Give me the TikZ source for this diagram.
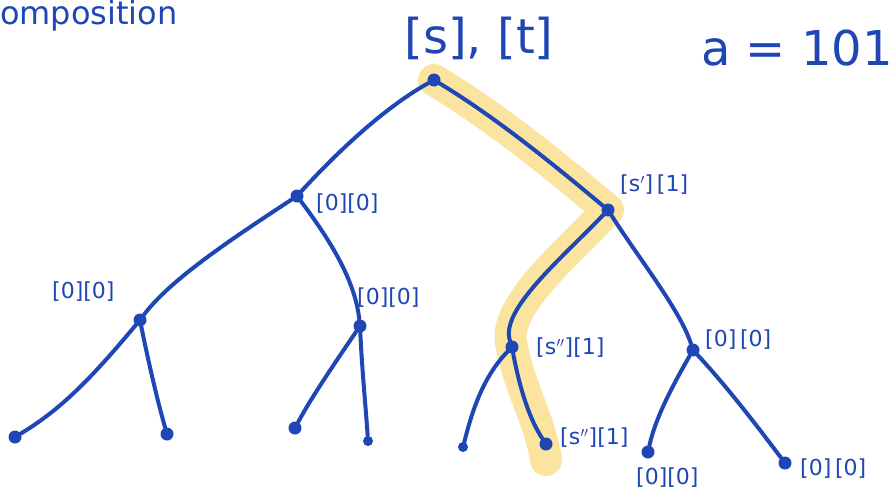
\documentclass[tikz,border=0pt]{standalone}
\usepackage{fontspec}
\setmainfont{DejaVu Sans}
\begin{document}
\begin{tikzpicture}[x=1pt,y=-1pt,
  ink/.style={draw=inkblue,line width=4pt,line cap=round},
  dot/.style={circle,fill=inkblue,inner sep=0pt,minimum size=13pt},
  lab/.style={text=inkblue,font=\fontsize{22}{22}\selectfont,inner sep=0pt,anchor=west},
  big/.style={text=inkblue,font=\fontsize{48}{48}\selectfont,inner sep=0pt},
  hl/.style={draw=hlyellow,line width=32pt,line cap=round,line join=round}]
\definecolor{inkblue}{RGB}{30,70,180}
\definecolor{hlyellow}{RGB}{250,228,160}
\useasboundingbox (0,0) rectangle (892,493);
% highlight (drawn first, under everything)
\coordinate (hR) at (434,80);
\coordinate (hB) at (608,210);
\coordinate (hE) at (512,347);
\coordinate (hEnd) at (546,460);
\draw[hl] (hR) .. controls (500,120) and (560,170) .. (hB)
  .. controls (560,260) and (500,310) .. (hE)
  .. controls (520,390) and (540,420) .. (hEnd);
% nodes
\node[dot] (R) at (434,80) {};
\node[dot] (A) at (297,196) {};
\node[dot] (B) at (608,210) {};
\node[dot] (C) at (140,320) {};
\node[dot] (D) at (360,326) {};
\node[dot] (E) at (512,347) {};
\node[dot] (F) at (693,350) {};
\node[dot] (L1) at (15,437) {};
\node[dot] (L2) at (167,434) {};
\node[dot] (L3) at (295,428) {};
\node[dot,minimum size=10pt] (L4) at (368,441) {};
\node[dot,minimum size=10pt] (L5) at (463,447) {};
\node[dot] (L6) at (546,444) {};
\node[dot] (L7) at (648,452) {};
\node[dot] (L8) at (785,463) {};
% edges
\draw[ink] (R) .. controls (380,110) and (330,160) .. (A);
\draw[ink] (A) .. controls (230,240) and (170,280) .. (C);
\draw[ink] (C) .. controls (90,380) and (60,410) .. (L1);
\draw[ink] (C) .. controls (150,370) and (160,410) .. (L2);
\draw[ink] (A) .. controls (330,240) and (355,280) .. (D);
\draw[ink] (D) .. controls (330,370) and (310,400) .. (L3);
\draw[ink] (D) .. controls (362,370) and (366,410) .. (L4);
\draw[ink] (R) .. controls (500,120) and (560,170) .. (B);
\draw[ink] (B) .. controls (560,260) and (500,310) .. (E);
\draw[ink] (E) .. controls (480,380) and (470,420) .. (L5);
\draw[ink] (E) .. controls (520,390) and (530,420) .. (L6);
\draw[ink] (B) .. controls (640,260) and (680,310) .. (F);
\draw[ink] (F) .. controls (670,390) and (655,420) .. (L7);
\draw[ink] (F) .. controls (730,390) and (760,430) .. (L8);
% labels
\node[lab] (lA) at (316,204) {[0][0]};
\node[lab] (lB) at (620,185) {[s$'$]\,[1]};
\node[lab] (lC) at (52,292) {[0][0]};
\node[lab] (lD) at (357,298) {[0][0]};
\node[lab] (lE) at (536,348) {[s$''$][1]};
\node[lab] (lF) at (705,340) {[0]\,[0]};
\node[lab] (lL6) at (560,438) {[s$''$][1]};
\node[lab] (lL7) at (636,478) {[0][0]};
\node[lab] (lL8) at (800,469) {[0]\,[0]};
\node[big] (top) at (479,38) {[s], [t]};
\node[big] (a) at (797,48) {a = 101};
\node[text=inkblue,font=\fontsize{32}{32}\selectfont,anchor=north west,inner sep=0pt] (title) at (0,0) {omposition};
\end{tikzpicture}
\end{document}
